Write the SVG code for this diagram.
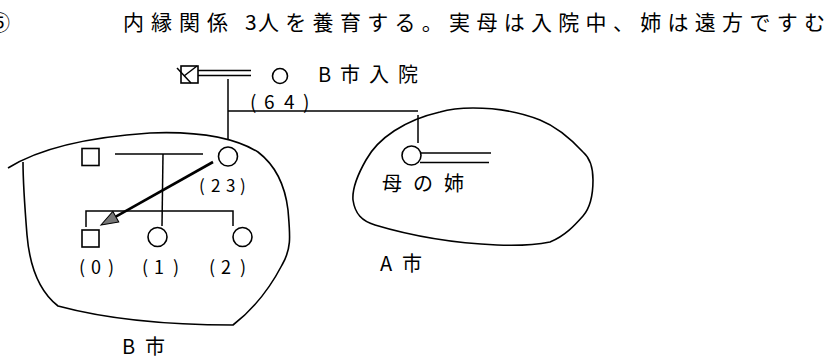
<svg xmlns="http://www.w3.org/2000/svg" width="838" height="361" viewBox="0 0 838 361">
<style>
text{font-family:"Noto Sans CJK JP","Noto Sans CJK SC",sans-serif;fill:#000}
.ln{stroke:#000;stroke-width:1.5;fill:none}
.sym{stroke:#000;stroke-width:1.6;fill:#fff}
.area{stroke:#000;stroke-width:1.6;fill:none}
.age{font-size:18px}
</style>
<defs>
<marker id="ah" markerUnits="userSpaceOnUse" markerWidth="20" markerHeight="14" refX="0" refY="6" orient="auto" overflow="visible">
<path d="M0,0 L17,6 L0,12 Z" fill="#777" stroke="#000" stroke-width="1"/>
</marker>
</defs>
<rect width="838" height="361" fill="#fff"/>
<g id="title">
<text x="-11" y="30" font-size="21">⑤</text>
<text x="123" y="30" font-size="21" letter-spacing="7">内縁関係</text>
<text x="245" y="30" font-size="21">3</text>
<text x="258" y="30" font-size="21" letter-spacing="6.3">人を養育する。実母は入院中、姉は遠方ですむ</text>
</g>
<g id="areas">
<path id="areaB" class="area" d="M 8,168 C 40,148 90,137 150,133 C 200,131 235,138 258,152 C 275,165 285,185 288,210 C 290,235 292,248 282,265 C 270,288 255,308 233,325 C 175,325 110,320 58,306 C 40,292 30,270 27,235 C 25,210 23,185 23,162"/>
<path id="areaA" class="area" d="M 440,112 C 405,120 378,138 366,160 C 358,174 352,188 353,200 C 355,214 362,221 375,225 C 405,234 450,243 497,245 C 520,246 540,244 550,242 C 565,236 575,225 583,216 C 590,208 593,196 593,180 C 593,166 590,158 583,152 C 570,138 555,126 540,120 C 520,112 500,108 473,108 C 460,108 450,109 440,112 Z"/>
</g>
<g id="connectors">
<line class="ln" x1="198" y1="70.5" x2="251" y2="70.5"/>
<line class="ln" x1="198" y1="75.5" x2="251" y2="75.5"/>
<line class="ln" x1="228" y1="79" x2="228" y2="140"/>
<line class="ln" x1="228" y1="111" x2="418" y2="111"/>
<line class="ln" x1="418" y1="115" x2="418" y2="143"/>
<line class="ln" x1="421" y1="153" x2="491" y2="153"/>
<line class="ln" x1="420" y1="162.5" x2="489" y2="162.5"/>
<line class="ln" x1="115" y1="154" x2="203" y2="154"/>
<line class="ln" x1="163" y1="154" x2="162" y2="226"/>
<polyline class="ln" points="86,227 86,211 233,211 233,226"/>
<line stroke="#000" stroke-width="2.6" x1="213" y1="162" x2="115.8" y2="216.7" marker-end="url(#ah)"/>
</g>
<g id="grandfather">
<rect class="sym" x="181" y="66" width="17" height="17"/>
<line class="ln" x1="177" y1="68" x2="191" y2="83"/>
<line class="ln" x1="197" y1="66" x2="184" y2="76"/>
</g>
<g id="grandmother">
<circle class="sym" cx="280" cy="76" r="7.5"/>
<text x="318" y="82" font-size="20" textLength="100" lengthAdjust="spacing">B市入院</text>
<text x="250 264 284 303" y="109" font-size="19">(64)</text>
</g>
<g id="aunt">
<circle class="sym" cx="411.5" cy="155.5" r="9.5"/>
<text x="382" y="191" font-size="20" textLength="82" lengthAdjust="spacing">母の姉</text>
</g>
<g id="father">
<rect class="sym" x="82" y="148.5" width="17" height="17"/>
</g>
<g id="mother">
<circle class="sym" cx="228" cy="156.5" r="9.5"/>
<text x="199 211 226 240" y="192" font-size="17">(23)</text>
</g>
<g id="child0">
<rect class="sym" x="82" y="230" width="17" height="17"/>
<text class="age" x="79 91 108" y="274">(0)</text>
</g>
<g id="child1">
<circle class="sym" cx="157.5" cy="237" r="9.5"/>
<text class="age" x="142 154 173" y="274">(1)</text>
</g>
<g id="child2">
<circle class="sym" cx="242.5" cy="237" r="9.5"/>
<text class="age" x="209 221 240" y="274">(2)</text>
</g>
<g id="labels">
<text x="380" y="271" font-size="20" textLength="42" lengthAdjust="spacing">A市</text>
<text x="122" y="354" font-size="20" textLength="43" lengthAdjust="spacing">B市</text>
</g>
</svg>
